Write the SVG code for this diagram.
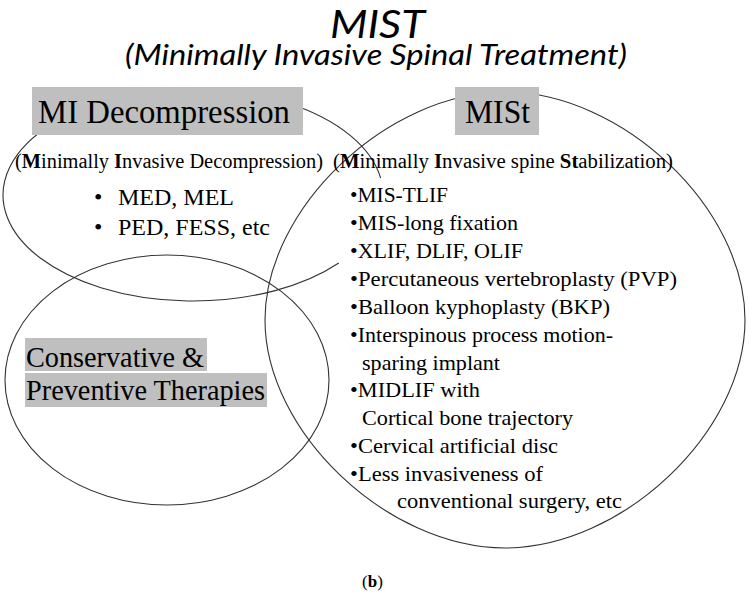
<svg xmlns="http://www.w3.org/2000/svg" width="749" height="592" viewBox="0 0 749 592">
<style>
.ln{fill:none;stroke:#333;stroke-width:1.1}
.hl{fill:#bfbfbf}
.ser{font-family:"Liberation Serif","Times New Roman",serif;fill:#000}
.ttl{font-family:Lato,"Open Sans",sans-serif;font-style:italic;fill:#000}
.b{font-weight:bold}
.li{font-size:21px}
</style>
<rect width="749" height="592" fill="#fff"/>
<g id="title">
<text class="ttl" x="330" y="38" font-size="38" textLength="95" lengthAdjust="spacingAndGlyphs">MIST</text>
<text class="ttl" x="125" y="65" font-size="29" textLength="502" lengthAdjust="spacingAndGlyphs">(Minimally Invasive Spinal Treatment)</text>
</g>
<g id="connectors"></g>
<g id="mi-decompression">
<path class="ln" d="M380.6,178 A190,106 0 1 0 338.8,263"/>
<rect class="hl" x="32" y="87" width="271" height="48"/>
<text class="ser" x="38" y="123" font-size="33" textLength="252" lengthAdjust="spacingAndGlyphs">MI Decompression</text>
<text class="ser" x="15" y="168" font-size="20" textLength="308" lengthAdjust="spacingAndGlyphs">(<tspan class="b">M</tspan>inimally <tspan class="b">I</tspan>nvasive Decompression)</text>
<text class="ser" x="94" y="205" font-size="24">•</text>
<text class="ser" x="118" y="205" font-size="24">MED, MEL</text>
<text class="ser" x="94" y="235" font-size="24">•</text>
<text class="ser" x="118" y="235" font-size="24">PED, FESS, etc</text>
</g>
<g id="conservative">
<ellipse class="ln" cx="167" cy="380" rx="162" ry="125"/>
<rect class="hl" x="25" y="338" width="182" height="33"/>
<rect class="hl" x="25" y="373" width="242" height="34"/>
<text class="ser" x="26" y="367" font-size="29" textLength="178" lengthAdjust="spacingAndGlyphs">Conservative &amp;</text>
<text class="ser" x="26" y="400" font-size="29" textLength="239" lengthAdjust="spacingAndGlyphs">Preventive Therapies</text>
</g>
<g id="mist">
<path class="ln" d="M745,320 C745,431.7 622.6,548 505,548 C387.4,548 265,431.7 265,320 C265,208.3 387.4,92 505,92 C622.6,92 745,208.3 745,320 Z"/>
<rect class="hl" x="455" y="87" width="84" height="48"/>
<text class="ser" x="465" y="123" font-size="33" textLength="65" lengthAdjust="spacingAndGlyphs">MISt</text>
<text class="ser" x="333" y="168" font-size="20" textLength="340" lengthAdjust="spacingAndGlyphs">(<tspan class="b">M</tspan>inimally <tspan class="b">I</tspan>nvasive spine <tspan class="b">St</tspan>abilization)</text>
<g class="ser li">
<text x="350" y="202" textLength="98" lengthAdjust="spacingAndGlyphs">•MIS-TLIF</text>
<text x="350" y="230" textLength="168" lengthAdjust="spacingAndGlyphs">•MIS-long fixation</text>
<text x="350" y="258" textLength="173" lengthAdjust="spacingAndGlyphs">•XLIF, DLIF, OLIF</text>
<text x="350" y="286" textLength="327" lengthAdjust="spacingAndGlyphs">•Percutaneous vertebroplasty (PVP)</text>
<text x="350" y="314" textLength="260" lengthAdjust="spacingAndGlyphs">•Balloon kyphoplasty (BKP)</text>
<text x="350" y="342" textLength="263" lengthAdjust="spacingAndGlyphs">•Interspinous process motion-</text>
<text x="362" y="370" textLength="138" lengthAdjust="spacingAndGlyphs">sparing implant</text>
<text x="350" y="397" textLength="130" lengthAdjust="spacingAndGlyphs">•MIDLIF with</text>
<text x="362" y="425" textLength="211" lengthAdjust="spacingAndGlyphs">Cortical bone trajectory</text>
<text x="350" y="453" textLength="208" lengthAdjust="spacingAndGlyphs">•Cervical artificial disc</text>
<text x="350" y="481" textLength="193" lengthAdjust="spacingAndGlyphs">•Less invasiveness of</text>
<text x="397" y="508" textLength="225" lengthAdjust="spacingAndGlyphs">conventional surgery, etc</text>
</g>
</g>
<text class="ser" x="362" y="587" font-size="17">(<tspan class="b">b</tspan>)</text>
</svg>
